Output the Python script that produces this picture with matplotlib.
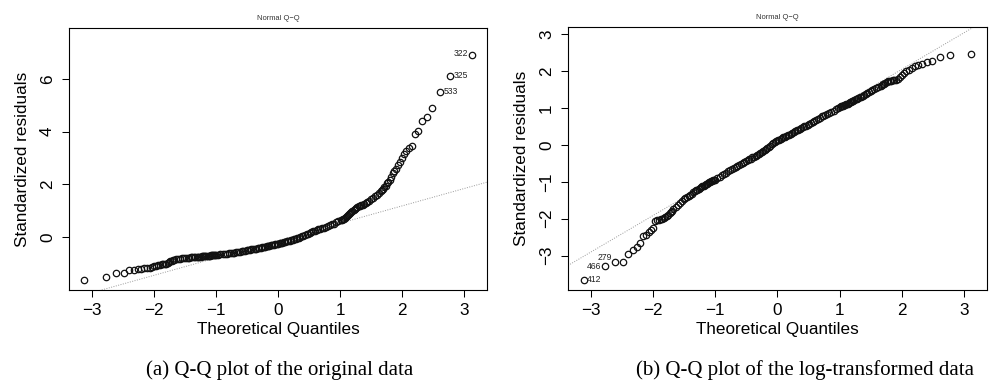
import numpy as np
import matplotlib.pyplot as plt
from statistics import NormalDist

plt.rcParams['font.family'] = ['Liberation Sans', 'DejaVu Sans']

# ------------------------------------------------------------
# datos (residuos estandarizados ordenados)
# ------------------------------------------------------------
n_obs = 540

# posicion (rango) de cada residuo dentro de la muestra ordenada
rank_lo = list(range(1, 27))
rank_lo_mid = list(range(28, 85, 2))
rank_mid = list(range(86, 457, 5))
rank_hi_mid = list(range(458, 515, 2))
rank_hi = list(range(515, 541))
ranks = np.array(rank_lo + rank_lo_mid + rank_mid + rank_hi_mid + rank_hi)

# (a) datos originales
orig_lo = [-1.63, -1.50, -1.37, -1.36, -1.25, -1.24, -1.22, -1.21, -1.18, -1.17,
           -1.15, -1.12, -1.08, -1.07, -1.06, -1.04, -1.03, -1.02, -1.01, -1.00,
           -0.97, -0.93, -0.90, -0.88, -0.86, -0.85]
orig_lo_mid = [-0.84, -0.83, -0.81, -0.80, -0.79, -0.78, -0.78, -0.77, -0.76, -0.76,
               -0.75, -0.75, -0.74, -0.74, -0.73, -0.73, -0.72, -0.72, -0.72, -0.71,
               -0.71, -0.70, -0.70, -0.70, -0.69, -0.69, -0.68, -0.68, -0.67]
orig_mid = [-0.67, -0.66, -0.65, -0.64, -0.63, -0.62, -0.61, -0.60, -0.59, -0.58,
            -0.57, -0.56, -0.55, -0.53, -0.52, -0.51, -0.50, -0.49, -0.48, -0.46,
            -0.45, -0.44, -0.43, -0.41, -0.40, -0.39, -0.38, -0.37, -0.35, -0.34,
            -0.33, -0.32, -0.31, -0.30, -0.28, -0.27, -0.26, -0.25, -0.23, -0.22,
            -0.21, -0.19, -0.18, -0.16, -0.14, -0.13, -0.11, -0.09, -0.07, -0.05,
            -0.03, -0.01, 0.01, 0.03, 0.06, 0.09, 0.12, 0.14, 0.17, 0.20,
            0.23, 0.25, 0.28, 0.30, 0.32, 0.35, 0.37, 0.40, 0.42, 0.45,
            0.49, 0.52, 0.56, 0.60, 0.64]
orig_hi_mid = [0.66, 0.68, 0.71, 0.73, 0.76, 0.79, 0.83, 0.87, 0.91, 0.95,
               0.99, 1.03, 1.07, 1.11, 1.14, 1.17, 1.19, 1.21, 1.24, 1.27,
               1.30, 1.35, 1.39, 1.44, 1.49, 1.55, 1.62, 1.69, 1.75]
orig_hi = [1.78, 1.84, 1.90, 1.96, 2.04, 2.10, 2.18, 2.30, 2.45, 2.52,
           2.58, 2.72, 2.86, 3.00, 3.14, 3.27, 3.38, 3.44, 3.93, 4.04,
           4.40, 4.56, 4.88, 5.49, 6.11, 6.92]
orig_ids = {540: '322', 539: '325', 538: '533'}

# (b) datos con transformacion logaritmica
log_lo = [-3.67, -3.29, -3.17, -3.17, -2.96, -2.85, -2.78, -2.67, -2.47, -2.43,
          -2.36, -2.30, -2.24, -2.07, -2.05, -2.03, -2.02, -2.00, -1.98, -1.95,
          -1.92, -1.89, -1.85, -1.82, -1.78, -1.75]
log_lo_mid = [-1.69, -1.63, -1.58, -1.53, -1.48, -1.45, -1.42, -1.38, -1.35, -1.32,
              -1.29, -1.26, -1.23, -1.21, -1.19, -1.17, -1.14, -1.12, -1.11, -1.09,
              -1.07, -1.05, -1.04, -1.02, -1.00, -0.99, -0.98, -0.96, -0.95]
log_mid = [-0.94, -0.90, -0.87, -0.83, -0.79, -0.75, -0.71, -0.68, -0.65, -0.62,
           -0.60, -0.57, -0.54, -0.52, -0.49, -0.46, -0.44, -0.41, -0.39, -0.37,
           -0.34, -0.32, -0.29, -0.27, -0.24, -0.22, -0.20, -0.17, -0.14, -0.11,
           -0.08, -0.05, -0.02, 0.02, 0.05, 0.08, 0.10, 0.12, 0.14, 0.16,
           0.18, 0.20, 0.22, 0.24, 0.26, 0.28, 0.30, 0.32, 0.34, 0.37,
           0.39, 0.41, 0.43, 0.45, 0.48, 0.50, 0.52, 0.54, 0.57, 0.60,
           0.63, 0.66, 0.68, 0.71, 0.74, 0.77, 0.79, 0.81, 0.84, 0.87,
           0.90, 0.93, 0.96, 0.99, 1.02]
log_hi_mid = [1.04, 1.05, 1.06, 1.08, 1.09, 1.11, 1.12, 1.14, 1.15, 1.17,
              1.19, 1.20, 1.22, 1.24, 1.25, 1.27, 1.29, 1.31, 1.33, 1.35,
              1.38, 1.40, 1.43, 1.46, 1.48, 1.51, 1.54, 1.57, 1.60]
log_hi = [1.62, 1.64, 1.66, 1.68, 1.70, 1.72, 1.73, 1.74, 1.75, 1.76,
          1.77, 1.78, 1.83, 1.90, 1.96, 1.99, 2.02, 2.07, 2.13, 2.17,
          2.20, 2.24, 2.27, 2.37, 2.43, 2.47]
log_ids = {1: '412', 2: '466', 3: '279'}

resid_orig = np.array(orig_lo + orig_lo_mid + orig_mid + orig_hi_mid + orig_hi)
resid_log = np.array(log_lo + log_lo_mid + log_mid + log_hi_mid + log_hi)

captions = ['(a) Q-Q plot of the original data',
            '(b) Q-Q plot of the log-transformed data']
yticks_list = [[0, 2, 4, 6], [-3, -2, -1, 0, 1, 2, 3]]


def cuantiles_teoricos(r, n):
    nd = NormalDist()
    return np.array([nd.inv_cdf((k - 0.5) / n) for k in r])


def qq_panel(ax, y, ids, yticks):
    x = cuantiles_teoricos(ranks, n_obs)
    ax.plot(x, y, 'o', mfc='none', mec='#111111', ms=4.6, mew=0.9, zorder=3)

    # linea por los cuartiles (como qqline de R)
    zq = NormalDist().inv_cdf(0.75)
    q1, q3 = np.interp([-zq, zq], x, y)
    pend = (q3 - q1) / (2 * zq)
    inter = q1 + pend * zq

    # limites al estilo de plot.lm
    xr = [x.min(), x.max()]
    dx = xr[1] - xr[0]
    xlim = (xr[0] - 0.04 * dx, xr[1] + 0.04 * dx)
    yr = [y.min(), y.max()]
    yr[1] += 0.075 * (yr[1] - yr[0])
    dy = yr[1] - yr[0]
    ylim = (yr[0] - 0.04 * dy, yr[1] + 0.04 * dy)

    xl = np.array(xlim)
    ax.plot(xl, inter + pend * xl, color='#9a9a9a', lw=0.7,
            linestyle=(0, (1, 1.5)), zorder=2)
    ax.set_xlim(xlim)
    ax.set_ylim(ylim)

    # etiquetas de observaciones extremas
    sel = np.isin(ranks, list(ids))
    mid = (x[sel].min() + x[sel].max()) / 2
    # pequenos ajustes verticales (puntos) para que no se pisen
    dv = {'279': 2.2, '466': -0.8}
    for r, lab in ids.items():
        i = int(np.where(ranks == r)[0][0])
        izq = x[i] > mid
        ax.annotate(lab, (x[i], y[i]), xytext=(-2.2 if izq else 2.5, 0.6 + dv.get(lab, 0)),
                    textcoords='offset points', ha='right' if izq else 'left',
                    va='center', fontsize=6.2, color='#222222')

    ax.set_xticks([-3, -2, -1, 0, 1, 2, 3])
    ax.set_yticks(yticks)
    ax.tick_params(direction='out', length=5, width=0.75, labelsize=12.3, pad=4.5)
    for lab in ax.get_yticklabels():
        lab.set_rotation(90)
        lab.set_va('center')
    ax.tick_params(axis='y', pad=5)
    for s in ax.spines.values():
        s.set_linewidth(0.8)

    ax.set_xlabel('Theoretical Quantiles', fontsize=12.3)
    ax.xaxis.set_label_coords(0.5, -0.149)
    ax.xaxis.label.set_va('center')
    ax.set_ylabel('Standardized residuals', fontsize=12.3)
    ax.yaxis.set_label_coords(-0.112, 0.5)
    ax.yaxis.label.set_va('center')
    ax.text(0.5, 1.038, 'Normal Q\u2212Q', transform=ax.transAxes,
            ha='center', va='center', fontsize=5.4, color='#333333')


fig = plt.figure(figsize=(9.89, 3.88), dpi=100)
ax1 = fig.add_axes([69 / 989, 98 / 388, 418 / 989, 262 / 388])
ax2 = fig.add_axes([568 / 989, 98 / 388, 419 / 989, 263 / 388])

qq_panel(ax1, resid_orig, orig_ids, yticks_list[0])
qq_panel(ax2, resid_log, log_ids, yticks_list[1])

fig.text(280 / 989, 1 - 370 / 388, captions[0], ha='center', va='center',
         fontsize=15, family=['Liberation Serif', 'DejaVu Serif'])
fig.text(805 / 989, 1 - 370 / 388, captions[1], ha='center', va='center',
         fontsize=15, family=['Liberation Serif', 'DejaVu Serif'])

fig.savefig('out.png', dpi=100)
